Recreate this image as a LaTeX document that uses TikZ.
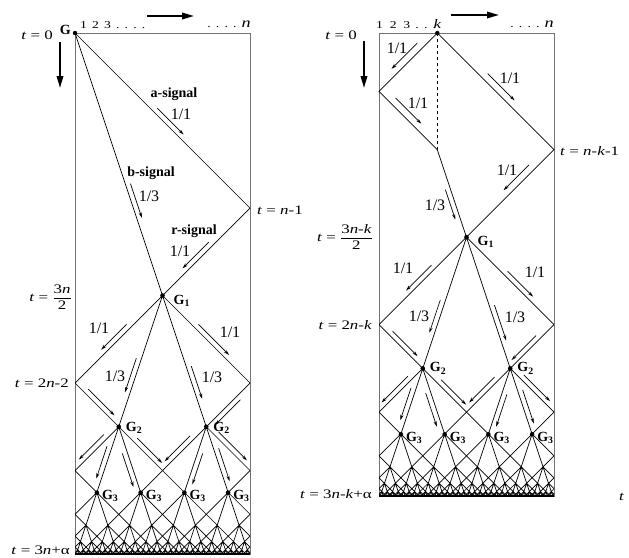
\documentclass[tikz,border=0pt]{standalone}
\usepackage{fontspec}
\setmainfont{Liberation Serif}
\newfontfamily\tfont[FakeStretch=1.3]{Liberation Serif}
\usepackage{amsmath}
\usetikzlibrary{arrows.meta,calc}

\tikzset{
  wire/.style={line width=0.7pt},
  wall/.style={line width=1pt, draw=black!55},
  sigarrow/.style={line width=0.7pt, -{Stealth[length=5.5pt,width=3.2pt]}},
  bigarrow/.style={line width=1.8pt, -{Triangle[length=12pt,width=6.5pt]}},
  tlab/.style={font=\tfont\fontsize{13}{14}\selectfont, inner sep=0pt},
  rate/.style={font=\fontsize{16}{17}\selectfont, inner sep=0pt},
  sname/.style={font=\bfseries\fontsize{14}{15}\selectfont, inner sep=0pt},
  glab/.style={font=\bfseries\fontsize{14}{15}\selectfont, inner sep=0pt, anchor=west},
  cellnum/.style={font=\tfont\fontsize{10.5}{11}\selectfont, inner sep=0pt},
}

% short arrow running beside a signal
\newcommand\sigoff{5pt}
\newcommand\sig[5]{%
  \draw[sigarrow] ($(#1)!#3!(#2)!\sigoff!#5:(#2)$) -- ($(#1)!#4!(#2)!\sigoff!#5:(#2)$);}

% recursive halving below G1: left wall, time of G1, width, bottom
\newcommand\cascade[4]{%
  \begin{scope}
    \clip (#1,#2-1) rectangle (#1+#3,#4);
    \foreach \m in {1,...,9}{
      \pgfmathsetmacro\hw{#3/2^\m}
      \pgfmathsetmacro\yy{#2+1.5*#3*(1-1/2^(\m-1))}
      \pgfmathtruncatemacro\nn{2^(\m-1)}
      \foreach \j in {1,...,\nn}{
        \pgfmathsetmacro\cx{#1+(2*\j-1)*\hw}
        \draw[wire] (\cx-\hw,\yy+\hw) -- (\cx,\yy) -- (\cx+\hw,\yy+\hw)
          -- (\cx+0.5*\hw,\yy+1.5*\hw) -- (\cx,\yy) -- (\cx-0.5*\hw,\yy+1.5*\hw) -- cycle;
      }
    }
  \end{scope}}

\begin{document}
\begin{tikzpicture}[x=1pt, y=-1pt]
\useasboundingbox (0,0) rectangle (629,557);

%%% left: general at cell 1
\coordinate (LG) at (75,33);
\coordinate (Lhit) at (250,208);
\coordinate (LG1) at (162.5,295.5);
\coordinate (LW1) at (75,383);
\coordinate (LE1) at (250,383);
\coordinate (LG2a) at (118.75,426.75);
\coordinate (LG2b) at (206.25,426.75);
\coordinate (LW2) at (75,470.5);
\coordinate (LM2) at (162.5,470.5);
\coordinate (LE2) at (250,470.5);
\foreach \i/\x in {a/96.875, b/140.625, c/184.375, d/228.125}
  \coordinate (LG3\i) at (\x,492.625);

\draw[wall] (75,33) rectangle (250,554);
\draw[line width=1.2pt] (75,554) -- (250,554);
\draw[wire] (LG) -- (Lhit) -- (LG1) -- cycle;
\cascade{75}{295.5}{175}{554}

\foreach \p in {LG1,LG2a,LG2b,LG3a,LG3b,LG3c,LG3d}
  \fill (\p) circle (2.3);
\fill (LG) circle (2.2);

\node[font=\bfseries\fontsize{14}{15}\selectfont, inner sep=0pt, anchor=east] (lgen) at (71,30) {G};
\node[cellnum, anchor=west] (lcells) at (80,25) {1\ \,2\ \,3\ \,.\ \,.\ \,.\ \,.};
\node[cellnum, anchor=east] (lend) at (251,24) {.\ \,.\ \,.\ \,.\ \,{\fontsize{14}{15}\selectfont\textit{n}}};
\draw[bigarrow] (147,16) -- (194,16);
\draw[bigarrow] (60,42) -- (60,88);

\node[tlab, anchor=east] (lt0) at (53,35) {\textit{t} = 0};
\node[tlab, anchor=west] (lt1) at (257,210) {\textit{t} = \textit{n}-1};
\node[tlab, anchor=east] (lt2) at (72,297) {\textit{t} = \(\dfrac{\text{3\textit{n}}}{\text{2}}\)};
\node[tlab, anchor=east] (lt3) at (69,383) {\textit{t} = 2\textit{n}-2};
\node[tlab, anchor=east] (lt4) at (70,550) {\textit{t} = 3\textit{n}+α};

\node[sname] (la) at (174,94) {a-signal};
\node[rate] (lar) at (181,114) {1/1};
\node[sname] (lb) at (151,173) {b-signal};
\node[rate] (lbr) at (149,196) {1/3};
\node[sname] (lr) at (194,231) {r-signal};
\node[rate] (lrr) at (180,251) {1/1};
\node[rate] at (99,328) {1/1};
\node[rate] at (230,332) {1/1};
\node[rate] at (115,376) {1/3};
\node[rate] at (212,377) {1/3};

\node[glab] at ($(LG1)+(11,5)$) {G\textsubscript{1}};
\foreach \p in {LG2a,LG2b}
  \node[glab] at ($(\p)+(7,1)$) {G\textsubscript{2}};
\foreach \p in {LG3a,LG3b,LG3c,LG3d}
  \node[glab] at ($(\p)+(5,3)$) {G\textsubscript{3}};

\sig{LG}{Lhit}{0.45}{0.6}{90}
\sig{LG}{LG1}{0.58}{0.71}{90}
\sig{Lhit}{LG1}{0.43}{0.73}{-90}
\sig{LG1}{LW1}{0.37}{0.66}{-90}
\sig{LG1}{LE1}{0.37}{0.72}{90}
\sig{LG1}{LG2a}{0.49}{0.75}{-90}
\sig{LG1}{LG2b}{0.55}{0.8}{90}
\sig{LW1}{LG2a}{0.22}{0.82}{90}
\sig{LE1}{LG2b}{0.3}{0.88}{90}
\sig{LG2a}{LW2}{0.26}{0.83}{-90}
\sig{LG2a}{LG3a}{0.32}{0.81}{-90}
\sig{LG2a}{LG3b}{0.38}{0.89}{-90}
\sig{LG2a}{LM2}{0.34}{0.91}{90}
\sig{LG2b}{LM2}{0.29}{0.87}{-90}
\sig{LG2b}{LG3c}{0.38}{0.85}{90}
\sig{LG2b}{LG3d}{0.35}{0.85}{90}
\sig{LG2b}{LE2}{0.2}{0.85}{90}

%%% right: general at cell k
\coordinate (RK) at (437.33,33);
\coordinate (RW0) at (379,91.33);
\coordinate (RB) at (437.33,149.67);
\coordinate (RE0) at (554,149.67);
\coordinate (RG1) at (466.5,237.17);
\coordinate (RW1) at (379,324.67);
\coordinate (RE1) at (554,324.67);
\coordinate (RG2a) at (422.75,368.42);
\coordinate (RG2b) at (510.25,368.42);
\coordinate (RW2) at (379,412.17);
\coordinate (RM2) at (466.5,412.17);
\coordinate (RE2) at (554,412.17);
\foreach \i/\x in {a/400.875, b/444.625, c/488.375, d/532.125}
  \coordinate (RG3\i) at (\x,434.3);

\draw[wall] (379,33) rectangle (554,496);
\draw[line width=1.2pt] (379,496) -- (554,496);
\draw[wire] (RK) -- (RW0) -- (RB) -- (RG1) -- (RE0) -- cycle;
\draw[wire, dashed] (RK) -- (RB);
\cascade{379}{237.17}{175}{496}

\foreach \p in {RG1,RG2a,RG2b,RG3a,RG3b,RG3c,RG3d}
  \fill (\p) circle (2.3);
\fill (RK) circle (2.2);

\node[cellnum, anchor=west] (rcells) at (376,25) {1\ \ 2\ \ 3\ \,.\ \,.\ \,.};
\node[inner sep=0pt, font=\tfont\fontsize{13}{14}\selectfont] (rk) at (437.5,24) {\textit{k}};
\node[cellnum, anchor=east] (rend) at (554,24) {.\ \,.\ \,.\ \,.\ \,{\fontsize{14}{15}\selectfont\textit{n}}};
\draw[bigarrow] (451,15) -- (499,15);
\draw[bigarrow] (364,41) -- (364,88);

\node[tlab, anchor=east] (rt0) at (357,35) {\textit{t} = 0};
\node[tlab, anchor=west] (rt1) at (560,151) {\textit{t} = \textit{n}-\textit{k}-1};
\node[tlab, anchor=east] (rt2) at (373,237) {\textit{t} = \(\dfrac{\text{3\textit{n}-\textit{k}}}{\text{2}}\)};
\node[tlab, anchor=east] (rt3) at (372,325) {\textit{t} = 2\textit{n}-\textit{k}};
\node[tlab, anchor=east] (rt4) at (372,494) {\textit{t} = 3\textit{n}-\textit{k}+α};
\node[tlab, anchor=west] (rt5) at (619,497) {\textit{t}};

\node[rate] at (397,48) {1/1};
\node[rate] at (418,103) {1/1};
\node[rate] at (510,78) {1/1};
\node[rate] at (507,170) {1/1};
\node[rate] at (435,205) {1/3};
\node[rate] at (403,268) {1/1};
\node[rate] at (535,272) {1/1};
\node[rate] at (419,316) {1/3};
\node[rate] at (515,317) {1/3};

\node[glab] at ($(RG1)+(11,5)$) {G\textsubscript{1}};
\foreach \p in {RG2a,RG2b}
  \node[glab] at ($(\p)+(7,0)$) {G\textsubscript{2}};
\foreach \p in {RG3a,RG3b,RG3c,RG3d}
  \node[glab] at ($(\p)+(5,3.5)$) {G\textsubscript{3}};

\renewcommand\sigoff{7pt}
\sig{RK}{RW0}{0.26}{0.7}{-90}
\sig{RW0}{RB}{0.2}{0.64}{90}
\sig{RK}{RE0}{0.39}{0.62}{90}
\sig{RE0}{RG1}{0.23}{0.52}{-90}
\renewcommand\sigoff{5pt}
\sig{RB}{RG1}{0.44}{0.78}{-90}
\sig{RG1}{RW1}{0.36}{0.65}{-90}
\sig{RG1}{RE1}{0.43}{0.72}{90}
\sig{RG1}{RG2a}{0.49}{0.74}{-90}
\sig{RG1}{RG2b}{0.53}{0.8}{90}
\sig{RW1}{RG2a}{0.23}{0.8}{90}
\sig{RE1}{RG2b}{0.33}{0.89}{-90}
\sig{RG2a}{RW2}{0.26}{0.86}{-90}
\sig{RG2a}{RG3a}{0.32}{0.81}{-90}
\sig{RG2a}{RG3b}{0.35}{0.86}{-90}
\sig{RG2a}{RM2}{0.34}{0.91}{90}
\sig{RG2b}{RM2}{0.28}{0.86}{-90}
\sig{RG2b}{RG3c}{0.37}{0.86}{90}
\sig{RG2b}{RG3d}{0.35}{0.86}{90}
\sig{RG2b}{RE2}{0.23}{0.83}{90}
\end{tikzpicture}
\end{document}
